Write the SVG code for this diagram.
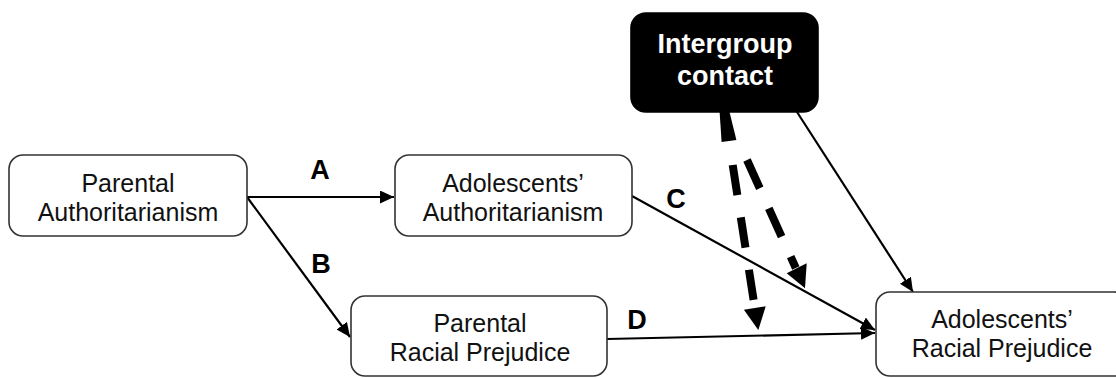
<svg xmlns="http://www.w3.org/2000/svg" width="1116" height="378" viewBox="0 0 1116 378">
<defs>
<style>
.box{fill:#fff;stroke:#333;stroke-width:1.6}
.dark{fill:#000;stroke:#000;stroke-width:1.6}
.t{font-family:"Liberation Sans",Arial,sans-serif;font-size:25px;fill:#111;text-anchor:middle}
.tw{font-family:"Liberation Sans",Arial,sans-serif;font-size:27px;font-weight:bold;fill:#fff;text-anchor:middle}
.lbl{font-family:"Liberation Sans",Arial,sans-serif;font-size:27px;font-weight:bold;fill:#000;text-anchor:middle}
.e{fill:none;stroke:#000;stroke-width:2.2}
.dash{fill:none;stroke:#000;stroke-width:8;stroke-dasharray:30.5 22.5}
.head{fill:#000;stroke:none}
</style>
<marker id="arr" markerUnits="userSpaceOnUse" markerWidth="15" markerHeight="14" refX="14" refY="6.5" orient="auto">
<path d="M0,0 L14,6.5 L0,13 z" fill="#000"/>
</marker>
</defs>
<rect width="1116" height="378" fill="#fff"/>
<g id="connectors">
<line class="e" x1="247" y1="197" x2="394" y2="197" marker-end="url(#arr)"/>
<line class="e" x1="247" y1="197" x2="350" y2="337" marker-end="url(#arr)"/>
<line class="e" x1="632" y1="196" x2="875" y2="330" marker-end="url(#arr)"/>
<line class="e" x1="607" y1="339" x2="875" y2="333" marker-end="url(#arr)"/>
<line class="e" x1="797" y1="112" x2="913" y2="292" marker-end="url(#arr)"/>
<line class="dash" x1="732.7" y1="165" x2="753.6" y2="300"/>
<polygon class="head" points="716,57 736.4,139.9 721.6,142.1"/>
<polygon class="head" points="758.3,330 765.7,306.3 743.9,309.7"/>
<line class="dash" x1="747" y1="160" x2="795.8" y2="268" style="stroke-dasharray:31 22"/>
<polygon class="head" points="805,288.3 806.7,263.3 786.7,273.3"/>
<text class="lbl" x="320" y="179">A</text>
<text class="lbl" x="321" y="273">B</text>
<text class="lbl" x="676" y="208">C</text>
<text class="lbl" x="637" y="329">D</text>
</g>
<g id="parental-authoritarianism">
<rect class="box" x="9" y="155" width="238" height="81" rx="14"/>
<text class="t" x="128" y="192">Parental</text>
<text class="t" x="128" y="221">Authoritarianism</text>
</g>
<g id="adolescents-authoritarianism">
<rect class="box" x="395" y="155" width="237" height="81" rx="14"/>
<text class="t" x="513" y="192">Adolescents’</text>
<text class="t" x="513" y="221">Authoritarianism</text>
</g>
<g id="parental-racial-prejudice">
<rect class="box" x="351" y="296" width="256" height="80" rx="14"/>
<text class="t" x="480" y="332">Parental</text>
<text class="t" x="480" y="361">Racial Prejudice</text>
</g>
<g id="adolescents-racial-prejudice">
<rect class="box" x="876" y="292" width="252" height="84" rx="14"/>
<text class="t" x="1002" y="328">Adolescents’</text>
<text class="t" x="1002" y="357">Racial Prejudice</text>
</g>
<g id="intergroup-contact">
<rect class="dark" x="631" y="13" width="187" height="99" rx="15"/>
<text class="tw" x="725" y="53">Intergroup</text>
<text class="tw" x="725" y="85">contact</text>
</g>
</svg>
